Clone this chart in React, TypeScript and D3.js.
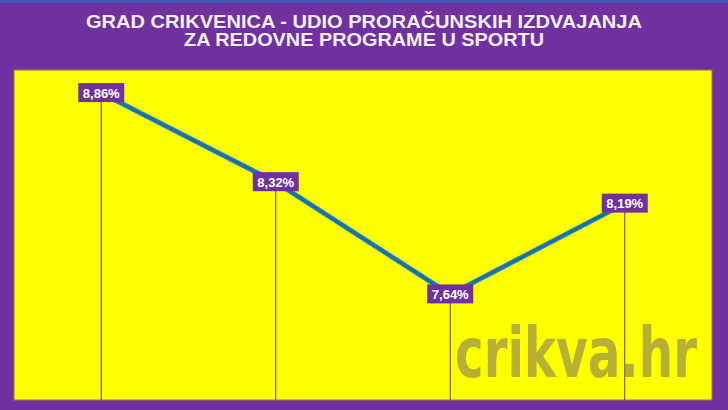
import * as d3 from "d3";

const years = ["2016", "2017", "2018", "2019"];
const shares = [8.86, 8.32, 7.64, 8.19];
const labels = ["8,86%", "8,32%", "7,64%", "8,19%"];
const titleLines = [
  "GRAD CRIKVENICA - UDIO PRORAČUNSKIH IZDVAJANJA",
  "ZA REDOVNE PROGRAME U SPORTU",
];

const W = 728;
const H = 410;
const plot = { left: 14, top: 70, right: 712, bottom: 400 };

export default function App() {
  const x = d3
    .scaleBand()
    .domain(years)
    .range([plot.left, plot.right])
    .padding(0);
  const cx = (d: string) => (x(d) || 0) + x.bandwidth() / 2;
  const y = d3.scaleLinear().domain([7, 9]).range([plot.bottom, plot.top]);

  const line = d3
    .line<number>()
    .x((_, i) => cx(years[i]))
    .y((v) => y(v));

  return (
    <div style={{ position: "fixed", left: 0, top: 0 }}>
      <svg width={W} height={H} style={{ display: "block" }}>
        <rect x={0} y={0} width={W} height={H} fill="#7030a0" />
        <rect x={0} y={0} width={W} height={3} fill="#3f55b8" />
        {titleLines.map((t, i) => (
          <text
            key={t}
            x={W / 2}
            y={27.5 + i * 18}
            textAnchor="middle"
            fill="#f4f0f8"
            fontFamily="'Liberation Sans Narrow', 'Liberation Sans', Arial, sans-serif"
            fontWeight="bold"
            fontSize={18}
            textLength={i === 0 ? 556 : 360}
            lengthAdjust="spacingAndGlyphs"
          >
            {t}
          </text>
        ))}
        <rect
          x={plot.left}
          y={plot.top}
          width={plot.right - plot.left}
          height={plot.bottom - plot.top}
          fill="#ffff00"
          stroke="#9a7a40"
          strokeWidth={1}
        />
        <text
          x={455}
          y={377}
          fill="#b6b034"
          fontFamily="'DejaVu Sans Condensed', 'DejaVu Sans', sans-serif"
          fontWeight="bold"
          fontSize={70}
          textLength={242}
          lengthAdjust="spacingAndGlyphs"
        >
          crikva.hr
        </text>
        {years.map((yr, i) => (
          <line
            key={yr}
            x1={cx(yr)}
            x2={cx(yr)}
            y1={y(shares[i])}
            y2={plot.bottom}
            stroke="#6d3c62"
            strokeWidth={1}
          />
        ))}
        <path
          d={line(shares) || ""}
          fill="none"
          stroke="#2e8ccc"
          strokeWidth={5}
          strokeLinejoin="round"
        />
        <path
          d={line(shares) || ""}
          fill="none"
          stroke="#1a7298"
          strokeWidth={3}
          strokeLinejoin="round"
        />
        {years.map((yr, i) => (
          <g key={yr} transform={`translate(${cx(yr)},${y(shares[i])})`}>
            <rect x={-23} y={-10} width={46} height={19} fill="#7030a0" />
            <text
              x={0}
              y={4.5}
              textAnchor="middle"
              fill="#ffffff"
              fontFamily="'Liberation Sans', Arial, sans-serif"
              fontWeight="bold"
              fontSize={13}
            >
              {labels[i]}
            </text>
          </g>
        ))}
      </svg>
    </div>
  );
}
